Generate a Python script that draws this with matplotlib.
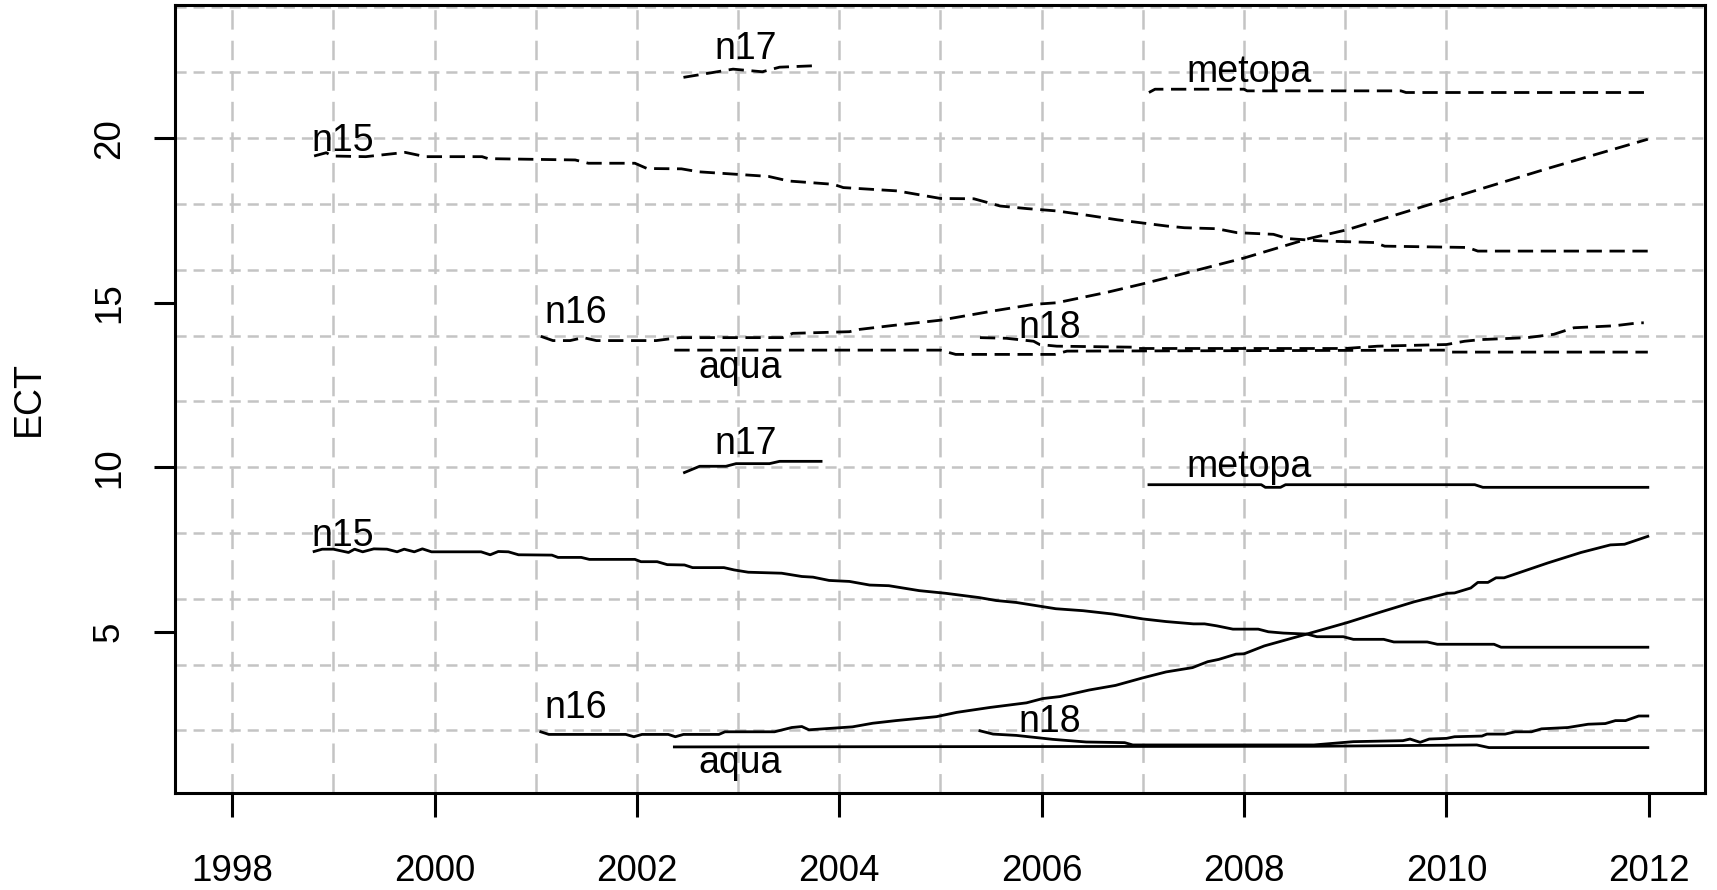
import matplotlib
matplotlib.use("Agg")
import matplotlib.pyplot as plt

plt.rcParams['font.family'] = ['Liberation Sans', 'DejaVu Sans']
plt.rcParams['lines.scale_dashes'] = False

# --- solid series (lower group) : decimal year, ECT ---
n15_t = [1998.81, 1998.89, 1999.0, 1999.15, 1999.21, 1999.29, 1999.4, 1999.53, 1999.63, 1999.7,
         1999.8, 1999.88, 1999.97, 2000.46, 2000.55, 2000.63, 2000.73, 2000.83, 2001.16, 2001.22,
         2001.45, 2001.53, 2001.98, 2002.04, 2002.2, 2002.3, 2002.47, 2002.55, 2002.86, 2002.96,
         2003.1, 2003.43, 2003.63, 2003.74, 2003.9, 2004.1, 2004.3, 2004.49, 2004.79, 2005.05,
         2005.38, 2005.55, 2005.75, 2006.14, 2006.41, 2006.7, 2007.0, 2007.23, 2007.5, 2007.61,
         2007.73, 2007.89, 2008.14, 2008.24, 2008.39, 2008.62, 2008.72, 2008.98, 2009.08, 2009.38,
         2009.48, 2009.81, 2009.91, 2010.47, 2010.54, 2011.99]
n15_v = [7.44, 7.51, 7.51, 7.41, 7.51, 7.43, 7.52, 7.51, 7.43, 7.51,
         7.43, 7.52, 7.43, 7.43, 7.34, 7.44, 7.43, 7.34, 7.33, 7.26,
         7.26, 7.20, 7.20, 7.13, 7.13, 7.04, 7.03, 6.95, 6.95, 6.88,
         6.81, 6.78, 6.68, 6.66, 6.56, 6.53, 6.42, 6.40, 6.25, 6.17,
         6.04, 5.95, 5.89, 5.70, 5.64, 5.54, 5.39, 5.31, 5.24, 5.24,
         5.18, 5.08, 5.08, 5.00, 4.96, 4.93, 4.85, 4.85, 4.77, 4.77,
         4.69, 4.69, 4.62, 4.62, 4.53, 4.53]

n16_t = [2001.05, 2001.13, 2001.89, 2001.97, 2002.05, 2002.31, 2002.38, 2002.46, 2002.81, 2002.87,
         2003.36, 2003.53, 2003.63, 2003.7, 2004.13, 2004.33, 2004.56, 2004.96, 2005.16, 2005.49,
         2005.85, 2006.01, 2006.18, 2006.47, 2006.73, 2007.0, 2007.23, 2007.49, 2007.64, 2007.75,
         2007.92, 2008.0, 2008.2, 2008.62, 2009.02, 2009.35, 2009.68, 2010.01, 2010.08, 2010.24,
         2010.31, 2010.41, 2010.49, 2010.57, 2011.0, 2011.33, 2011.62, 2011.76, 2011.99]
n16_v = [1.96, 1.88, 1.88, 1.81, 1.88, 1.88, 1.81, 1.88, 1.88, 1.96,
         1.96, 2.09, 2.12, 2.02, 2.11, 2.22, 2.30, 2.42, 2.55, 2.70,
         2.84, 2.97, 3.03, 3.23, 3.37, 3.60, 3.78, 3.91, 4.09, 4.16,
         4.32, 4.33, 4.57, 4.93, 5.28, 5.60, 5.91, 6.17, 6.18, 6.33,
         6.50, 6.50, 6.64, 6.64, 7.09, 7.41, 7.64, 7.66, 7.90]

n17_t = [2002.47, 2002.62, 2002.88, 2002.98, 2003.31, 2003.41, 2003.82]
n17_v = [9.84, 10.03, 10.03, 10.11, 10.11, 10.18, 10.18]

n18_t = [2005.39, 2005.52, 2005.75, 2006.11, 2006.44, 2006.82, 2006.9, 2008.69, 2009.08, 2009.57,
         2009.64, 2009.74, 2009.83, 2010.0, 2010.08, 2010.35, 2010.4, 2010.58, 2010.68, 2010.84,
         2010.94, 2011.2, 2011.4, 2011.57, 2011.67, 2011.77, 2011.9, 2011.99]
n18_v = [1.99, 1.89, 1.85, 1.73, 1.65, 1.63, 1.56, 1.56, 1.66, 1.69,
         1.74, 1.64, 1.74, 1.76, 1.81, 1.83, 1.89, 1.89, 1.96, 1.96,
         2.05, 2.09, 2.19, 2.21, 2.30, 2.30, 2.44, 2.44]

metopa_t = [2007.06, 2008.17, 2008.21, 2008.36, 2008.41, 2010.28, 2010.36, 2011.99]
metopa_v = [9.47, 9.47, 9.39, 9.39, 9.47, 9.47, 9.39, 9.39]

aqua_t = [2002.37, 2008.7, 2010.3, 2010.42, 2011.99]
aqua_v = [1.50, 1.52, 1.56, 1.48, 1.48]

# --- dashed series (upper group) ---
n15_up_t = [1998.81, 1998.93, 1998.99, 1999.32, 1999.71, 1999.91, 2000.47, 2000.53, 2001.39, 2001.52,
            2001.98, 2002.1, 2002.44, 2002.61, 2003.3, 2003.5, 2003.94, 2004.04, 2004.57, 2005.0,
            2005.33, 2005.59, 2005.86, 2006.15, 2006.45, 2006.75, 2007.24, 2007.41, 2007.73, 2007.93,
            2008.29, 2008.43, 2008.76, 2009.29, 2009.39, 2010.21, 2010.31, 2011.99]
n15_up_v = [19.46, 19.56, 19.46, 19.44, 19.57, 19.44, 19.44, 19.38, 19.34, 19.24,
            19.24, 19.08, 19.07, 18.98, 18.84, 18.70, 18.60, 18.50, 18.40, 18.17,
            18.16, 17.94, 17.86, 17.79, 17.66, 17.52, 17.33, 17.28, 17.25, 17.13,
            17.08, 16.95, 16.88, 16.83, 16.72, 16.68, 16.57, 16.57]

n16_up_t = [2001.05, 2001.17, 2001.34, 2001.47, 2001.6, 2002.19, 2002.42, 2003.44, 2003.54, 2004.1,
            2004.2, 2004.53, 2005.0, 2005.52, 2005.92, 2006.15, 2006.65, 2006.98, 2007.37, 2008.0,
            2008.64, 2009.02, 2010.01, 2011.0, 2011.99]
n16_up_v = [13.98, 13.85, 13.85, 13.94, 13.85, 13.85, 13.94, 13.94, 14.07, 14.12,
            14.19, 14.31, 14.47, 14.75, 14.95, 15.00, 15.32, 15.56, 15.86, 16.36,
            16.95, 17.22, 18.15, 19.08, 19.97]

n17_up_t = [2002.46, 2002.95, 2003.24, 2003.41, 2003.73]
n17_up_v = [21.85, 22.10, 22.02, 22.16, 22.20]

n18_up_t = [2005.39, 2005.65, 2005.92, 2005.98, 2006.15, 2006.9, 2006.95, 2009.0, 2009.32, 2010.0,
            2010.18, 2010.34, 2010.8, 2011.06, 2011.26, 2011.66, 2011.9, 2011.95]
n18_up_v = [13.94, 13.92, 13.83, 13.73, 13.68, 13.65, 13.61, 13.61, 13.68, 13.73,
            13.83, 13.88, 13.94, 14.04, 14.24, 14.30, 14.39, 14.39]

metopa_up_t = [2007.06, 2007.12, 2008.0, 2008.03, 2009.55, 2009.6, 2011.99]
metopa_up_v = [21.39, 21.49, 21.49, 21.44, 21.44, 21.39, 21.39]

aqua_up_t = [2002.37, 2005.0, 2005.15, 2006.13, 2006.25, 2010.0, 2010.05, 2011.99]
aqua_up_v = [13.56, 13.56, 13.43, 13.43, 13.53, 13.56, 13.50, 13.50]

sat_names = ['n15', 'n16', 'n17', 'n18', 'metopa', 'aqua']
# label anchors (left edge, baseline) for the upper group; lower group sits 12 below
label_year = [1998.78, 2001.09, 2002.77, 2005.77, 2007.43, 2002.61]
label_ect = [19.62, 14.39, 22.41, 13.94, 21.70, 12.72]
group_offset = 12

solid = [(n15_t, n15_v), (n16_t, n16_v), (n17_t, n17_v),
         (n18_t, n18_v), (metopa_t, metopa_v), (aqua_t, aqua_v)]
dashed = [(n15_up_t, n15_up_v), (n16_up_t, n16_up_v), (n17_up_t, n17_up_v),
          (n18_up_t, n18_up_v), (metopa_up_t, metopa_up_v), (aqua_up_t, aqua_up_v)]

fig = plt.figure(figsize=(17.17, 8.9), dpi=100)
ax = fig.add_axes([0.1022, 0.109, 0.8911, 0.8854])
ax.set_xlim(1997.44, 2012.56)
ax.set_ylim(0.10, 24.05)

# background grid
grid_col = '#c4c4c4'
for yr in range(1998, 2011):
    ax.axvline(yr, color=grid_col, lw=1.8, ls=(0, (14, 8)), zorder=1)
for v in range(2, 25, 2):
    ax.axhline(v, color=grid_col, lw=1.8, ls=(0, (8, 5)), zorder=1)

for t, v in solid:
    ax.plot(t, v, color='black', lw=2.0, zorder=3)
for t, v in dashed:
    ax.plot(t, v, color='black', lw=2.0, ls=(0, (11, 5.5)), zorder=3)

for name, lx, ly in zip(sat_names, label_year, label_ect):
    for y in (ly, ly - group_offset):
        ax.text(lx, y, name, fontsize=27, ha='left', va='baseline', zorder=4)

ax.set_xticks(range(1998, 2013, 2))
ax.set_yticks([5, 10, 15, 20])
ax.tick_params(axis='x', length=17, width=2.2, labelsize=26.5, pad=27)
ax.tick_params(axis='y', length=15, width=2.2, labelsize=26.5, pad=20, labelrotation=90)
for lbl in ax.get_yticklabels():
    lbl.set_va('center')
for sp in ax.spines.values():
    sp.set_linewidth(2.2)

fig.text(0.0167, 0.5517, 'ECT', rotation=90, ha='center', va='center', fontsize=27)

fig.savefig('out.png', dpi=100)
